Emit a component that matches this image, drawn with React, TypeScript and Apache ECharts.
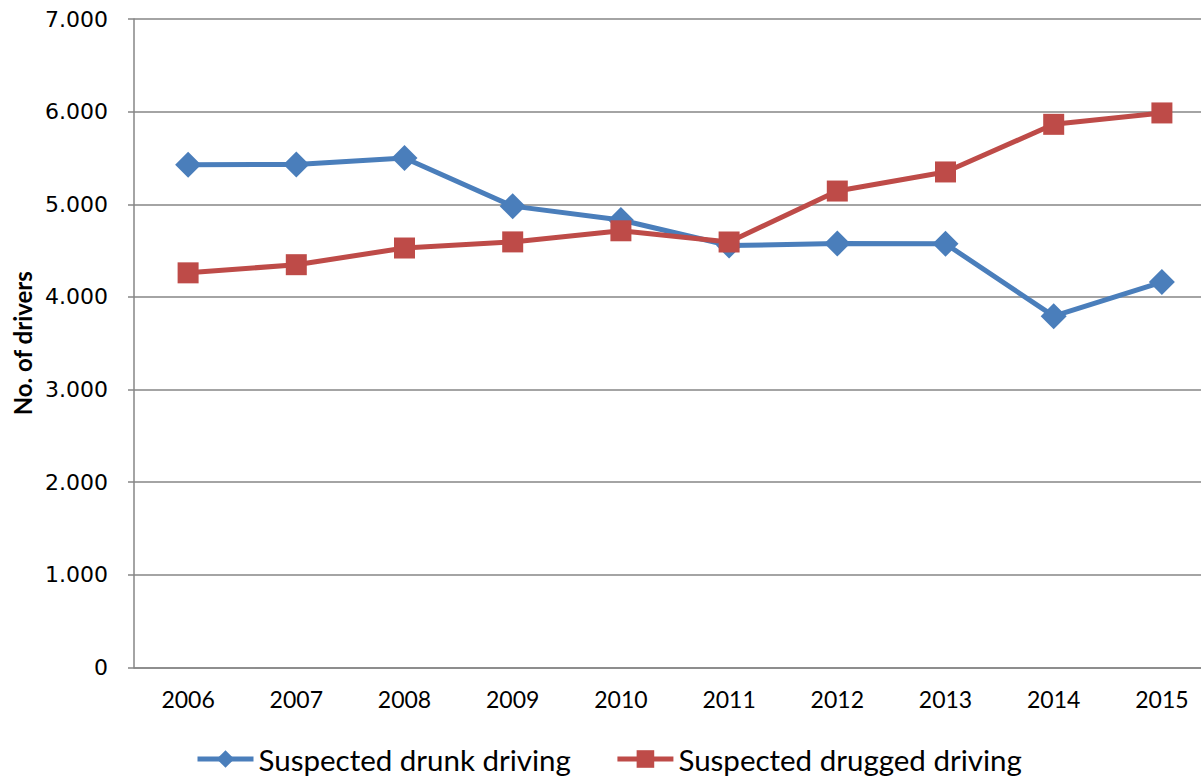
import React, { useEffect, useRef } from "react";
import * as echarts from "echarts";

// Years on the category axis
const years = ["2006", "2007", "2008", "2009", "2010", "2011", "2012", "2013", "2014", "2015"];

// Number of drivers suspected of drunk driving
const drunkDriving = [5428, 5430, 5499, 4980, 4830, 4555, 4576, 4574, 3792, 4160];

// Number of drivers suspected of drugged driving
const druggedDriving = [4260, 4348, 4528, 4594, 4714, 4593, 5143, 5349, 5863, 5986];

// Value axis tick labels (thousands separated by a dot)
const yTicks = ["0", "1.000", "2.000", "3.000", "4.000", "5.000", "6.000", "7.000"];

const BLUE = "#4A7EBB";
const RED = "#BE4B48";
const GRID = "#868686";

export default function App() {
  const ref = useRef<HTMLDivElement>(null);

  useEffect(() => {
    document.body.style.margin = "0";
    document.body.style.overflow = "hidden";
    if (!ref.current) return;
    const chart = echarts.init(ref.current, null, { renderer: "svg" });
    chart.setOption({
      animation: false,
      backgroundColor: "#ffffff",
      // the plot area runs on past the right edge of the visible page
      grid: { left: 134, top: 19, width: 1082, height: 648.5, containLabel: false },
      legend: {
        left: 195,
        top: 744,
        padding: 0,
        itemWidth: 56,
        itemHeight: 22,
        itemGap: 44,
        textStyle: { fontFamily: "Lato", fontSize: 29.5, color: "#000000" },
        data: [
          { name: "Suspected drunk driving", lineStyle: { width: 5, color: BLUE } },
          { name: "Suspected drugged driving", lineStyle: { width: 5, color: RED } },
        ],
      },
      xAxis: {
        type: "category",
        data: years,
        boundaryGap: true,
        axisLine: { show: true, lineStyle: { color: GRID, width: 1.5 } },
        axisTick: { show: false },
        axisLabel: { fontFamily: "Lato", fontSize: 23, color: "#000000", margin: 20 },
      },
      yAxis: {
        type: "value",
        min: 0,
        max: 7000,
        interval: 1000,
        name: "No. of drivers",
        nameLocation: "middle",
        nameGap: 98,
        nameTextStyle: { fontFamily: "Lato", fontWeight: "bold", fontSize: 24, color: "#000000" },
        axisLine: { show: true, lineStyle: { color: GRID, width: 1.5 } },
        axisTick: { show: true, length: 6, lineStyle: { color: GRID, width: 1.5 } },
        splitLine: { show: true, lineStyle: { color: GRID, width: 1.5 } },
        axisLabel: {
          fontFamily: "'DejaVu Sans', Verdana, sans-serif",
          fontSize: 22,
          color: "#000000",
          margin: 26,
          formatter: (v: number) => yTicks[Math.round(v / 1000)] ?? String(v),
        },
      },
      series: [
        {
          name: "Suspected drunk driving",
          type: "line",
          data: drunkDriving,
          symbol: "diamond",
          symbolSize: 26,
          lineStyle: { color: BLUE, width: 5 },
          itemStyle: { color: BLUE },
        },
        {
          name: "Suspected drugged driving",
          type: "line",
          data: druggedDriving,
          symbol: "rect",
          symbolSize: 21,
          lineStyle: { color: RED, width: 5 },
          itemStyle: { color: RED },
        },
      ],
    });
    return () => chart.dispose();
  }, []);

  return <div ref={ref} style={{ width: 1216, height: 778 }} />;
}
